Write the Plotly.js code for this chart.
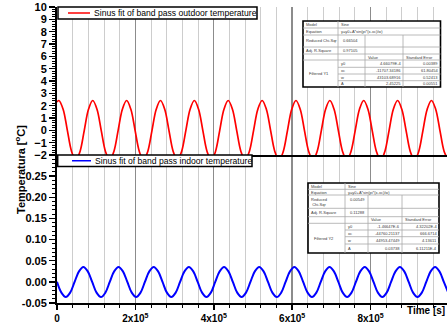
<!DOCTYPE html>
<html><head><meta charset="utf-8">
<script src="https://cdn.plot.ly/plotly-3.0.1.min.js"></script>
<style>html,body{margin:0;padding:0;overflow:hidden;background:#fff}</style>
</head><body>
<div id="chart" style="width:447px;height:325px"></div>
<script>
// ---------- data ----------
const outdoorName = 'Sinus fit of band pass outdoor temperature';
const indoorName = 'Sinus fit of band pass indoor temperature';

const outdoorTime = [0,
  4800,15600,26400,37200,48000,58800,69600,80400,
  91200,102000,112800,123600,134400,145200,156000,166800,
  177600,188400,199200,210000,220800,231600,242400,253200,
  264000,274800,285600,296400,307200,318000,328800,339600,
  350400,361200,372000,382800,393600,404400,415200,426000,
  436800,447600,458400,469200,480000,490800,501600,512400,
  523300,534100,544900,555700,566500,577300,588100,598900,
  609700,620500,631300,642100,652900,663700,674500,685300,
  696100,706900,717700,728500,739300,750100,760900,771700,
  782500,793300,804100,814900,825700,836500,847300,858100,
  868900,879700,890500,901300,912100,922900,933700,944500,
  955300,966100,976900,987700,998500];
const outdoorTemp = [2.30,
  2.42,1.71,0,-1.71,-2.42,-1.71,0,1.71,
  2.42,1.71,0,-1.71,-2.42,-1.71,0,1.71,
  2.42,1.71,0,-1.71,-2.42,-1.71,0,1.71,
  2.42,1.71,0,-1.71,-2.42,-1.71,0,1.71,
  2.42,1.71,0,-1.71,-2.42,-1.71,0,1.71,
  2.42,1.71,0,-1.71,-2.42,-1.71,0,1.71,
  2.42,1.71,0,-1.71,-2.42,-1.71,0,1.71,
  2.42,1.71,0,-1.71,-2.42,-1.71,0,1.71,
  2.42,1.71,0,-1.71,-2.42,-1.71,0,1.71,
  2.42,1.71,0,-1.71,-2.42,-1.71,0,1.71,
  2.42,1.71,0,-1.71,-2.42,-1.71,0,1.71,
  2.42,1.71,0,-1.71,-2.42];

const indoorTime = [
  0,11200,22400,33600,44900,56100,67300,78500,
  89700,100900,112200,123400,134600,145800,157000,168200,
  179400,190700,201900,213100,224300,235500,246700,257900,
  269200,280400,291600,302800,314000,325200,336500,347700,
  358900,370100,381300,392500,403700,415000,426200,437400,
  448600,459800,471000,482200,493500,504700,515900,527100,
  538300,549500,560800,572000,583200,594400,605600,616800,
  628000,639300,650500,661700,672900,684100,695300,706500,
  717800,729000,740200,751400,762600,773800,785100,796300,
  807500,818700,829900,841100,852300,863600,874800,886000,
  897200,908400,919600,930800,942100,953300,964500,975700,
  986900,998100];
const indoorTemp = [
  0,-0.0255,-0.036,-0.0255,0,0.0248,0.035,0.0248,
  0,-0.0255,-0.036,-0.0255,0,0.0248,0.035,0.0248,
  0,-0.0255,-0.036,-0.0255,0,0.0248,0.035,0.0248,
  0,-0.0255,-0.036,-0.0255,0,0.0248,0.035,0.0248,
  0,-0.0255,-0.036,-0.0255,0,0.0248,0.035,0.0248,
  0,-0.0255,-0.036,-0.0255,0,0.0248,0.035,0.0248,
  0,-0.0255,-0.036,-0.0255,0,0.0248,0.035,0.0248,
  0,-0.0255,-0.036,-0.0255,0,0.0248,0.035,0.0248,
  0,-0.0255,-0.036,-0.0255,0,0.0248,0.035,0.0248,
  0,-0.0255,-0.036,-0.0255,0,0.0248,0.035,0.0248,
  0,-0.0255,-0.036,-0.0255,0,0.0248,0.035,0.0248,
  0,-0.0255];

const xTickVals = [0, 200000, 400000, 600000, 800000];
const xTickText = ['0', '2x10<sup>5</sup>', '4x10<sup>5</sup>', '6x10<sup>5</sup>', '8x10<sup>5</sup>'];
const bottomYTickVals = [-0.05, 0, 0.05, 0.10, 0.15, 0.20, 0.25];
const bottomYTickText = ['-0.05', '0.00', '0.05', '0.10', '0.15', '0.20', '0.25'];

const yTitle = 'Temperatura [<sup>o</sup>C]';
const xTitle = 'Time [s]';

// fit result tables
const fitStatLabels = ['Model', 'Equation', 'Reduced Chi-Sqr', 'Adj. R-Square'];
const fit1StatValues = ['Sine', 'y=y0+A*sin(pi*(x-xc)/w)', '0.66504', '0.97105'];
const fit2StatValues = ['Sine', 'y=y0+A*sin(pi*(x-xc)/w)', '0.00549', '0.11288'];
const fitHeader = ['Value', 'Standard Error'];
const fitParams = ['y0', 'xc', 'w', 'A'];
const fit1Values = ['4.66079E-4', '-11707.34186', '43103.68916', '2.45225'];
const fit1Errors = ['0.00389', '61.80454', '0.52413', '0.00551'];
const fit2Values = ['-1.46647E-6', '-44760.21137', '44953.47449', '0.03738'];
const fit2Errors = ['4.32202E-4', '666.6714', '4.13611', '6.11211E-4'];

// ---------- layout helpers ----------
const W = 447, H = 325, ML = 57, MR = 0, MT = 7, MB = 22;
const PW = W - ML - MR, PH = H - MT - MB;
const px = v => (v - ML) / PW;
const py = v => (H - MB - v) / PH;
const FONT = 'Liberation Sans, Arial, sans-serif';

const shapes = [];
const annotations = [];

function hline(y, x0, x1, color, width) {
  shapes.push({type: 'line', xref: 'paper', yref: 'paper', x0: px(x0), x1: px(x1), y0: py(y), y1: py(y),
    line: {color: color, width: width}, layer: 'above'});
}
function vline(x, y0, y1, color, width) {
  shapes.push({type: 'line', xref: 'paper', yref: 'paper', x0: px(x), x1: px(x), y0: py(y0), y1: py(y1),
    line: {color: color, width: width}, layer: 'above'});
}
function rect(x0, y0, x1, y1, color, width, fill) {
  shapes.push({type: 'rect', xref: 'paper', yref: 'paper', x0: px(x0), x1: px(x1), y0: py(y1), y1: py(y0),
    line: {color: color, width: width}, fillcolor: fill, layer: 'above'});
}
function txt(text, x, y, xa, ya, size, extra) {
  annotations.push(Object.assign({text: text, xref: 'paper', yref: 'paper', x: px(x), y: py(y),
    xanchor: xa, yanchor: ya, showarrow: false, borderpad: 0,
    font: {family: FONT, size: size, color: '#000'}}, extra || {}));
}

function legendBox(x0, y0, x1, y1, color, lx0, lx1, label) {
  rect(x0, y0, x1, y1, '#000', 1.5, '#fff');
  const ym = (y0 + y1) / 2;
  hline(ym, lx0, lx1, color, 1.5);
  txt(label, lx1 + 2.5, ym + 0.3, 'left', 'middle', 8.6);
}

function fitTable(cx, ry, statValues, seriesLabel, values, errors, twoLineChi) {
  const inner = '#a8a8a8', tc = '#3a3a3a', fs = 4;
  rect(cx[0], ry[0], cx[4], ry[9], '#000', 1.6, '#fff');
  for (let i = 1; i <= 5; i++) hline(ry[i], cx[0], cx[4], inner, 0.8);
  for (let i = 6; i <= 8; i++) hline(ry[i], cx[1], cx[4], inner, 0.8);
  vline(cx[1], ry[0], ry[9], inner, 0.8);
  vline(cx[2], ry[2], ry[9], inner, 0.8);
  vline(cx[3], ry[2], ry[9], inner, 0.8);
  const ex = {font: {family: FONT, size: fs, color: tc}};
  for (let r = 0; r < 4; r++) {
    let lab = fitStatLabels[r];
    if (r === 2 && twoLineChi) lab = 'Reduced<br>Chi-Sqr';
    if (r === 2) {
      txt(lab, cx[0] + 2, ry[2] + 1.5, 'left', 'top', fs, ex);
      txt(statValues[r], cx[1] + 4, ry[2] + 1.5, 'left', 'top', fs, ex);
    } else {
      const ym = (ry[r] + ry[r + 1]) / 2;
      txt(lab, cx[0] + 2, ym, 'left', 'middle', fs, ex);
      txt(statValues[r], cx[1] + (r === 3 ? 4 : 2), ym, 'left', 'middle', fs, ex);
    }
  }
  const yh = (ry[4] + ry[5]) / 2;
  txt(fitHeader[0], cx[2] + 2, yh, 'left', 'middle', fs, ex);
  txt(fitHeader[1], cx[3] + 2, yh, 'left', 'middle', fs, ex);
  txt(seriesLabel, cx[0] + 5, (ry[5] + ry[9]) / 2, 'left', 'middle', fs, ex);
  for (let k = 0; k < 4; k++) {
    const ym = (ry[5 + k] + ry[6 + k]) / 2;
    txt(fitParams[k], cx[1] + 2, ym, 'left', 'middle', fs, ex);
    txt(values[k], cx[3] - 1.5, ym, 'right', 'middle', fs, ex);
    txt(errors[k], cx[4] - 1.5, ym, 'right', 'middle', fs, ex);
  }
}

// legends (drawn as boxes like the original)
legendBox(58, 7, 257, 19, '#ff0000', 68, 90, outdoorName);
legendBox(57.7, 155, 252, 166.5, '#0000ff', 72, 91, indoorName);

// fit tables
fitTable([303, 338, 365, 403, 440.5], [21, 28, 35, 47, 54, 60, 67.3, 74, 80.7, 87],
  fit1StatValues, 'Filtered Y1', fit1Values, fit1Errors, false);
fitTable([308, 345, 368, 402, 439], [183, 189.3, 195, 208.3, 216.7, 223.3, 230, 236.7, 244, 253],
  fit2StatValues, 'Filtered Y2', fit2Values, fit2Errors, true);

// axis titles
txt(yTitle, 20, 170, 'center', 'middle', 11, {textangle: -90, font: {family: FONT, size: 11, color: '#000', weight: 'bold'}});
txt(xTitle, 406, 310, 'left', 'middle', 10, {font: {family: FONT, size: 10, color: '#000', weight: 'bold'}});

const tickFont = {family: FONT, size: 10, color: '#000', weight: 'bold'};
const yTickFont = {family: FONT, size: 11, color: '#000', weight: 'bold'};

const xCommon = {
  range: [0, 995000], showline: true, linecolor: '#000', linewidth: 2, zeroline: false,
  showgrid: true, gridcolor: '#8c8c8c', gridwidth: 1.4,
  tickmode: 'array', tickvals: xTickVals, ticktext: xTickText
};

const layout = {
  width: W, height: H, margin: {l: ML, r: MR, t: MT, b: MB, pad: 0},
  paper_bgcolor: '#fff', plot_bgcolor: '#fff', showlegend: false,
  xaxis: Object.assign({}, xCommon, {
    domain: [0, 1], anchor: 'y2', ticks: 'outside', ticklen: 5, tickwidth: 1.5, tickcolor: '#000',
    tickfont: tickFont,
    minor: {tickmode: 'linear', tick0: 0, dtick: 40000, ticks: 'outside', ticklen: 3, tickwidth: 1, tickcolor: '#000',
      showgrid: true, gridcolor: '#cdcdcd', gridwidth: 1}
  }),
  xaxis2: Object.assign({}, xCommon, {
    domain: [0, 1], anchor: 'y', matches: 'x', ticks: '', showticklabels: false,
    minor: {tickmode: 'linear', tick0: 0, dtick: 40000, ticks: '', showgrid: true, gridcolor: '#cdcdcd', gridwidth: 1}
  }),
  yaxis: {
    domain: [0.5, 1], anchor: 'x2', range: [-2, 10], tickmode: 'linear', tick0: -2, dtick: 1,
    showline: true, linecolor: '#000', linewidth: 2, showgrid: false, zeroline: false,
    ticks: 'outside', ticklen: 6, tickwidth: 1.5, tickcolor: '#000', tickfont: yTickFont,
    minor: {tickmode: 'linear', tick0: -2, dtick: 0.2, ticks: 'outside', ticklen: 3, tickwidth: 1, tickcolor: '#000'}
  },
  yaxis2: {
    domain: [0, 0.5], anchor: 'x', range: [-0.05, 0.3], tickmode: 'array',
    tickvals: bottomYTickVals, ticktext: bottomYTickText,
    showline: true, linecolor: '#000', linewidth: 2, showgrid: false, zeroline: false,
    ticks: 'outside', ticklen: 6, tickwidth: 1.5, tickcolor: '#000', tickfont: yTickFont,
    minor: {tickmode: 'linear', tick0: -0.05, dtick: 0.01, ticks: 'outside', ticklen: 3, tickwidth: 1, tickcolor: '#000'}
  },
  shapes: shapes,
  annotations: annotations
};

const data = [
  {x: outdoorTime, y: outdoorTemp, xaxis: 'x2', yaxis: 'y', type: 'scatter', mode: 'lines',
   name: outdoorName, line: {color: '#ff0000', width: 1.7, shape: 'spline', smoothing: 1}},
  {x: indoorTime, y: indoorTemp, xaxis: 'x', yaxis: 'y2', type: 'scatter', mode: 'lines',
   name: indoorName, line: {color: '#0000ff', width: 2, shape: 'spline', smoothing: 1}}
];

Plotly.newPlot('chart', data, layout, {staticPlot: true, displayModeBar: false});
</script>
</body></html>
